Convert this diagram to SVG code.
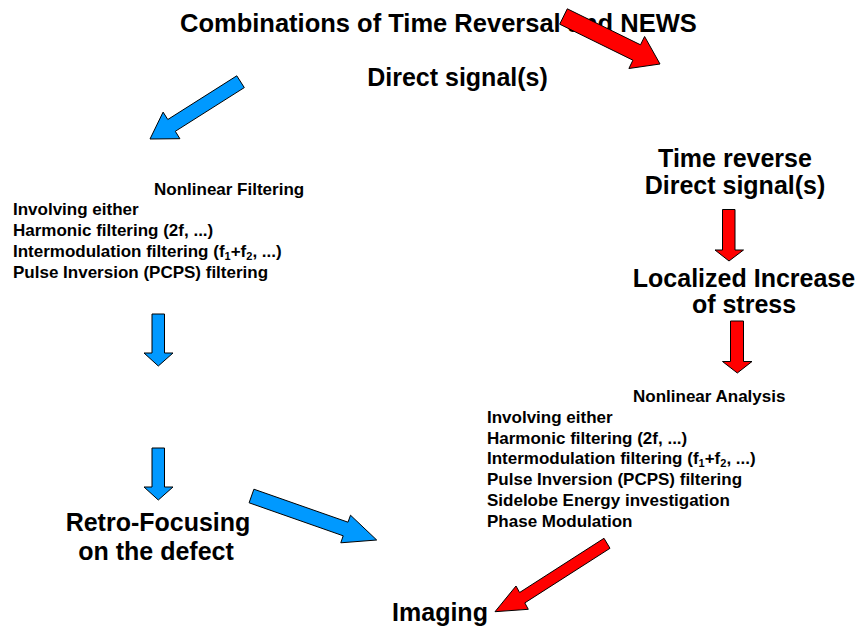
<svg xmlns="http://www.w3.org/2000/svg" width="857" height="633" viewBox="0 0 857 633">
<style>
  text { font-family: "Liberation Sans", Arial, sans-serif; font-weight: bold; fill: #000; }
  .big { font-size: 25px; }
  .small { font-size: 17px; }
  .sub { font-size: 11px; }
  .blue { fill: #0099FF; stroke: #000; stroke-width: 1; stroke-linejoin: miter; }
  .red { fill: #FF0000; stroke: #000; stroke-width: 1; stroke-linejoin: miter; }
</style>
<defs>
  <clipPath id="clipLeft">
    <rect x="0" y="170" width="330" height="111.5"/>
  </clipPath>
</defs>
<rect width="857" height="633" fill="#fff"/>

<g id="title">
  <text x="180" y="32" style="font-size:25.5px">Combinations of Time Reversal and NEWS</text>
</g>

<g id="direct-signal">
  <text class="big" x="457.5" y="86" text-anchor="middle">Direct signal(s)</text>
</g>

<g id="nonlinear-filtering" clip-path="url(#clipLeft)">
  <text class="small" x="154" y="195">Nonlinear Filtering</text>
  <text class="small" x="13" y="215">Involving either</text>
  <text class="small" x="13" y="235.8">Harmonic filtering (2f, ...)</text>
  <text class="small" x="13" y="256.6">Intermodulation filtering (f<tspan class="sub" dy="3">1</tspan><tspan dy="-3">+f</tspan><tspan class="sub" dy="3">2</tspan><tspan dy="-3">, ...)</tspan></text>
  <text class="small" x="13" y="278">Pulse Inversion (PCPS) filtering</text>
</g>

<g id="time-reverse">
  <text class="big" x="735" y="167" text-anchor="middle">Time reverse</text>
  <text class="big" x="735" y="193.5" text-anchor="middle">Direct signal(s)</text>
</g>

<g id="localized-stress">
  <text class="big" x="744" y="286.5" text-anchor="middle">Localized Increase</text>
  <text class="big" x="744" y="312.5" text-anchor="middle">of stress</text>
</g>

<g id="nonlinear-analysis">
  <text class="small" x="633" y="401.7">Nonlinear Analysis</text>
  <text class="small" x="487" y="422.7">Involving either</text>
  <text class="small" x="487" y="443.5">Harmonic filtering (2f, ...)</text>
  <text class="small" x="487" y="464.3">Intermodulation filtering (f<tspan class="sub" dy="3">1</tspan><tspan dy="-3">+f</tspan><tspan class="sub" dy="3">2</tspan><tspan dy="-3">, ...)</tspan></text>
  <text class="small" x="487" y="485.1">Pulse Inversion (PCPS) filtering</text>
  <text class="small" x="487" y="505.9">Sidelobe Energy investigation</text>
  <text class="small" x="487" y="526.7">Phase Modulation</text>
</g>

<g id="retro-focusing">
  <text class="big" x="158" y="531" text-anchor="middle">Retro-Focusing</text>
  <text class="big" x="156" y="560" text-anchor="middle">on the defect</text>
</g>

<g id="imaging">
  <text class="big" x="440" y="621" text-anchor="middle">Imaging</text>
</g>

<g id="connectors">
  <polygon class="red" points="567.3,8.8 640.5,44.8 644.6,36.5 660,64 628.9,68.5 632.9,60.2 559.7,24.2"/>
  <polygon class="blue" points="236.8,75.8 167.8,119.5 163.1,112.1 150,139 179.9,138.7 175.3,131.3 244.3,87.6"/>
  <polygon class="blue" points="152,314 164.5,314 164.5,353 173,353 158.3,366 144,353 152,353"/>
  <polygon class="blue" points="152,448 164.5,448 164.5,487 173,487 158.3,500 144,487 152,487"/>
  <polygon class="blue" points="253.9,489.2 348,522.2 350.5,515.2 376.7,540 340.8,542.8 343.2,535.8 249.1,502.8"/>
  <polygon class="red" points="722.5,209.5 735,209.5 735,250 743.5,250 729,261 715,250 722.5,250"/>
  <polygon class="red" points="730.5,321 743.5,321 743.5,361.5 752,361.5 737.3,373 722.5,361.5 730.5,361.5"/>
  <polygon class="red" points="604,538.3 519.6,592.5 516,586 495,611.7 528.3,609.3 524.8,602.9 610,548.3"/>
</g>
</svg>
